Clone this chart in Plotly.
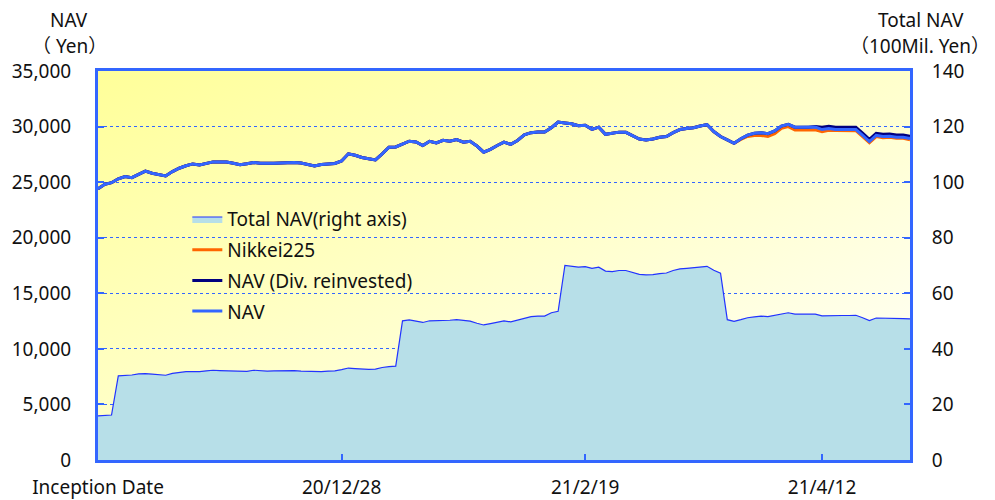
import base64
import plotly.graph_objects as go

# ---------------- data ----------------
tick_idx = [0, 36, 72, 107]
tick_labels = ["Inception Date", "20/12/28", "21/2/19", "21/4/12"]

nav = [24400, 24800, 24950, 25300, 25500, 25400, 25700, 26000, 25800, 25680,
       25560, 25950, 26250, 26470, 26640, 26550, 26700, 26820, 26820, 26820,
       26700, 26560, 26650, 26760, 26710, 26670, 26690, 26730, 26780, 26770,
       26720, 26600, 26450, 26580, 26650, 26680, 26900, 27550, 27420, 27220,
       27100, 27000, 27550, 28140, 28170, 28450, 28680, 28620, 28290, 28680,
       28530, 28770, 28680, 28830, 28590, 28680, 28250, 27700, 27950, 28300,
       28600, 28400, 28750, 29250, 29450, 29520, 29520, 29900, 30400, 30330,
       30250, 30080, 30120, 29750, 29950, 29300, 29400, 29500, 29480, 29200,
       28880, 28800, 28880, 29040, 29100, 29450, 29730, 29820, 29900, 30050,
       30180, 29550, 29100, 28800, 28500, 28900, 29230, 29400, 29450, 29360,
       29600, 30050, 30200, 29940, 29940, 29950, 29960, 29730, 29820, 29740,
       29730, 29730, 29730, 29200, 28650, 29200, 29100, 29130, 29040, 29040,
       28920]

nikkei225 = [24400, 24800, 24950, 25300, 25500, 25400, 25700, 26000, 25800, 25680,
             25560, 25950, 26250, 26470, 26640, 26550, 26700, 26820, 26820, 26820,
             26700, 26560, 26650, 26760, 26710, 26670, 26690, 26730, 26780, 26770,
             26720, 26600, 26450, 26580, 26650, 26680, 26900, 27550, 27420, 27220,
             27100, 27000, 27550, 28140, 28170, 28450, 28680, 28620, 28290, 28680,
             28530, 28770, 28680, 28830, 28590, 28680, 28250, 27700, 27950, 28300,
             28600, 28400, 28750, 29250, 29450, 29520, 29520, 29900, 30400, 30330,
             30250, 30080, 30120, 29750, 29950, 29300, 29400, 29500, 29480, 29200,
             28880, 28800, 28880, 29040, 29100, 29450, 29730, 29820, 29900, 30050,
             30180, 29550, 29100, 28800, 28500, 28850, 29110, 29200, 29200, 29110,
             29350, 29850, 30000, 29690, 29690, 29700, 29710, 29530, 29670, 29640,
             29630, 29630, 29630, 29100, 28550, 29100, 29000, 29030, 28940, 28940,
             28820]

nav_div = [24400, 24800, 24950, 25300, 25500, 25400, 25700, 26000, 25800, 25680,
           25560, 25950, 26250, 26470, 26640, 26550, 26700, 26820, 26820, 26820,
           26700, 26560, 26650, 26760, 26710, 26670, 26690, 26730, 26780, 26770,
           26720, 26600, 26450, 26580, 26650, 26680, 26900, 27550, 27420, 27220,
           27100, 27000, 27550, 28140, 28170, 28450, 28680, 28620, 28290, 28680,
           28530, 28770, 28680, 28830, 28590, 28680, 28250, 27700, 27950, 28300,
           28600, 28400, 28750, 29250, 29450, 29520, 29520, 29900, 30400, 30330,
           30250, 30080, 30120, 29750, 29950, 29300, 29400, 29500, 29480, 29200,
           28880, 28800, 28880, 29040, 29100, 29450, 29730, 29820, 29900, 30050,
           30180, 29550, 29100, 28800, 28500, 28900, 29230, 29400, 29450, 29360,
           29600, 30050, 30200, 29940, 29940, 29950, 30010, 29930, 30020, 29940,
           29930, 29930, 29930, 29400, 28850, 29400, 29300, 29330, 29240, 29240,
           29120]

total_nav = [15.9, 16.0, 16.2, 30.3, 30.4, 30.6, 31.0, 31.1, 30.9, 30.7,
             30.5, 31.2, 31.5, 31.8, 31.8, 31.8, 32.1, 32.3, 32.2, 32.1,
             32.1, 32.0, 31.9, 32.3, 32.1, 32.0, 32.1, 32.2, 32.3, 32.2,
             32.0, 31.9, 31.7, 31.8, 32.0, 32.1, 32.5, 33.1, 32.9, 32.7,
             32.6, 32.7, 33.3, 33.6, 33.8, 50.1, 50.4, 50.0, 49.5, 50.1,
             50.1, 50.1, 50.3, 50.5, 50.3, 50.0, 49.2, 48.6, 49.1, 49.6,
             50.1, 49.7, 50.4, 51.0, 51.6, 51.8, 51.8, 53.0, 53.5, 70.0,
             69.7, 69.4, 69.6, 69.0, 69.4, 68.0, 67.8, 68.2, 68.2, 67.5,
             66.8, 66.6, 66.7, 67.1, 67.3, 68.2, 68.8, 69.0, 69.2, 69.5,
             69.7, 68.3, 67.2, 50.5, 49.9, 50.5, 51.2, 51.5, 51.8, 51.6,
             52.0, 52.6, 53.0, 52.5, 52.5, 52.5, 52.5, 51.9, 52.0, 52.0,
             52.0, 52.0, 52.1, 51.2, 50.2, 51.1, 51.1, 51.0, 51.0, 50.9,
             50.8]

x_idx = list(range(len(nav)))

# ---------------- styling ----------------
FONT = "Noto Sans, Noto Sans CJK JP, sans-serif"
FS = 19
AXIS_BLUE = "#3366FF"
TXT = "#111111"

svg = ('<svg xmlns="http://www.w3.org/2000/svg" width="812" height="389" '
       'viewBox="0 0 812 389" preserveAspectRatio="none"><defs>'
       '<linearGradient id="g" x1="0" y1="0" x2="1" y2="1">'
       '<stop offset="0" stop-color="#FFFF99"/>'
       '<stop offset="1" stop-color="#FFFFFF"/>'
       '</linearGradient></defs>'
       '<rect width="812" height="389" fill="url(#g)"/></svg>')
bg_uri = "data:image/svg+xml;base64," + base64.b64encode(svg.encode()).decode()

fig = go.Figure()

fig.add_trace(go.Scatter(
    x=x_idx, y=total_nav, name="Total NAV(right axis)", yaxis="y2",
    mode="lines", fill="tozeroy", fillcolor="#B7DFE8",
    line=dict(color="#2233FF", width=1.2), legendgroup="a"))
fig.add_trace(go.Scatter(
    x=x_idx, y=nikkei225, name="Nikkei225", mode="lines",
    line=dict(color="#FF6600", width=3), legendgroup="b"))
fig.add_trace(go.Scatter(
    x=x_idx, y=nav_div, name="NAV (Div. reinvested)", mode="lines",
    line=dict(color="#000080", width=3), legendgroup="c"))
fig.add_trace(go.Scatter(
    x=x_idx, y=nav, name="NAV", mode="lines",
    line=dict(color="#3366FF", width=3), legendgroup="d"))

axis_common = dict(
    showline=True, linecolor=AXIS_BLUE, linewidth=3,
    ticks="inside", ticklen=6, tickwidth=2, tickcolor=AXIS_BLUE,
    zeroline=False, automargin=False,
    tickfont=dict(family=FONT, size=FS, color=TXT),
)

L, R, T, B = 98, 85, 71, 40
W, H = 995, 500

fig.update_layout(
    width=W, height=H,
    margin=dict(l=L, r=R, t=T, b=B),
    paper_bgcolor="white", plot_bgcolor="rgba(0,0,0,0)",
    font=dict(family=FONT, size=FS, color=TXT),
    showlegend=True,
    legend=dict(x=0.110, y=0.668, xanchor="left", yanchor="top",
                bgcolor="rgba(0,0,0,0)", font=dict(family=FONT, size=FS, color=TXT),
                tracegroupgap=3, traceorder="grouped"),
    xaxis=dict(range=[0, 120], tickvals=tick_idx, ticktext=tick_labels,
               showgrid=False, mirror=True, ticklabelstandoff=8, **axis_common),
    yaxis=dict(range=[0, 35000], dtick=5000, tickformat=",d",
               showgrid=True, gridcolor=AXIS_BLUE, gridwidth=1, griddash="dot",
               ticklabelstandoff=20, **axis_common),
    yaxis2=dict(range=[0, 140], dtick=20, overlaying="y", side="right",
                showgrid=False, ticklabelstandoff=15, **axis_common),
    images=[dict(source=bg_uri, xref="paper", yref="paper", x=0, y=1,
                 sizex=1, sizey=1, sizing="stretch", layer="below",
                 xanchor="left", yanchor="top")],
)

# header texts (pixel centre positions converted to paper coordinates)
header_texts = ["NAV", "（ Yen）", "Total NAV", "（100Mil. Yen）"]
header_px = [(69, 20), (69, 46), (921, 20), (920, 46)]
pw, ph = W - L - R, H - T - B
for txt, (px, py) in zip(header_texts, header_px):
    fig.add_annotation(text=txt, xref="paper", yref="paper",
                       x=(px - L) / pw, y=(H - B - py) / ph,
                       xanchor="center", yanchor="middle", showarrow=False,
                       font=dict(family=FONT, size=FS, color=TXT))

fig.write_html("out.html", config={"displayModeBar": False},
               post_script="document.body.style.margin='0px';document.body.style.padding='0px';")
